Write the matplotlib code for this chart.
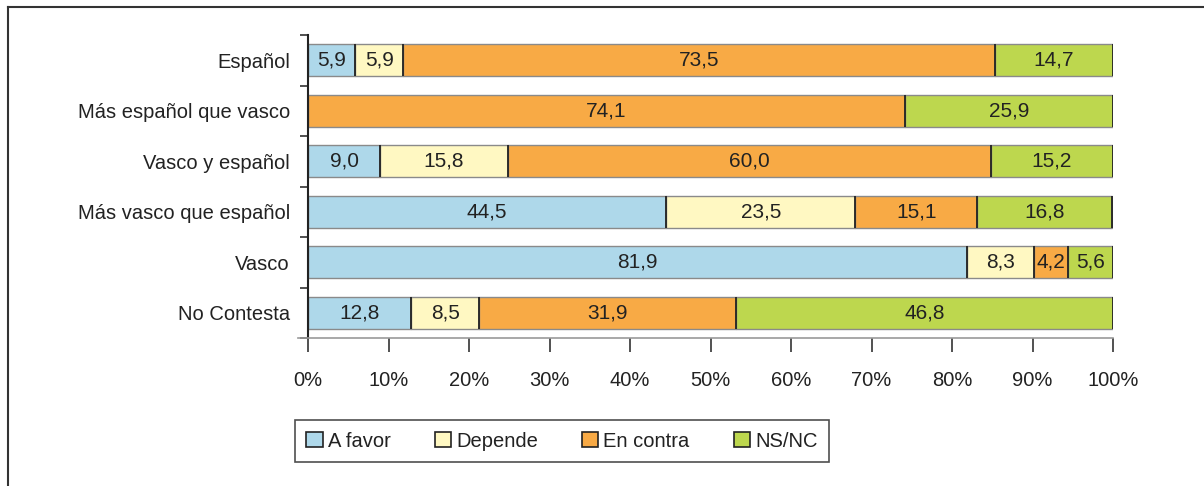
import matplotlib
matplotlib.use("Agg")
import matplotlib.pyplot as plt
from matplotlib.patches import Patch
from matplotlib.lines import Line2D
import numpy as np

plt.rcParams['font.family'] = ['Liberation Sans', 'DejaVu Sans']

categories = ["Español", "Más español que vasco", "Vasco y español",
              "Más vasco que español", "Vasco", "No Contesta"]
series_names = ["A favor", "Depende", "En contra", "NS/NC"]
a_favor = [5.9, 0.0, 9.0, 44.5, 81.9, 12.8]
depende = [5.9, 0.0, 15.8, 23.5, 8.3, 8.5]
en_contra = [73.5, 74.1, 60.0, 15.1, 4.2, 31.9]
ns_nc = [14.7, 25.9, 15.2, 16.8, 5.6, 46.8]
x_ticks = [0, 10, 20, 30, 40, 50, 60, 70, 80, 90, 100]
x_tick_labels = ["0%", "10%", "20%", "30%", "40%", "50%", "60%", "70%", "80%", "90%", "100%"]

colors = ["#AED8EA", "#FFF8C2", "#F8AA45", "#BDD74E"]
series = [a_favor, depende, en_contra, ns_nc]

fig = plt.figure(figsize=(12.04, 4.86), dpi=100)
ax = fig.add_axes([308/1204, 1-338/486, (1113-308)/1204, (338-35)/486])

y = np.arange(len(categories))
left = np.zeros(len(categories))
bh = 0.63
for vals, col, name in zip(series, colors, series_names):
    vals = np.array(vals)
    ax.barh(y, vals, left=left, height=bh, color=col, edgecolor="#8a8a8a",
            linewidth=1.0, label=name, zorder=2)
    for i, v in enumerate(vals):
        if v > 0:
            ax.text(left[i] + v/2, y[i], f"{v:.1f}".replace(".", ","),
                    ha="center", va="center", fontsize=15, color="#222222", zorder=4)
    left = left + vals
    for i, v in enumerate(vals):
        if v > 0:
            ax.vlines(left[i], y[i]-bh/2, y[i]+bh/2, color="#222222", linewidth=1.3, zorder=3)
ax.vlines(np.zeros(len(categories)), y-bh/2, y+bh/2, color="#222222", linewidth=1.3, zorder=3)

ax.set_xlim(0, 100)
ax.set_ylim(len(categories)-0.5, -0.5)
ax.set_yticks(y)
ax.set_yticklabels(categories, fontsize=14.5, color="#222222")
ax.tick_params(axis="y", which="major", length=0, pad=13)
ax.set_yticks(np.arange(len(categories)+1) - 0.5, minor=True)
ax.tick_params(axis="y", which="minor", length=6, width=1.2, color="#333333", direction="out")
ax.set_xticks(x_ticks)
ax.set_xticklabels(x_tick_labels, fontsize=14.5, color="#222222")
ax.tick_params(axis="x", length=10, width=1.2, color="#333333", direction="out", pad=14)

for s in ["top", "right"]:
    ax.spines[s].set_visible(False)
ax.spines["left"].set_color("#222222")
ax.spines["left"].set_linewidth(1.5)
ax.spines["bottom"].set_color("#999999")
ax.spines["bottom"].set_linewidth(1.2)
ax.spines["bottom"].set_bounds(-1.2, 100)

handles = [Patch(facecolor=c, edgecolor="#222222", linewidth=1.2) for c in colors]
leg = fig.legend(handles, series_names, loc="center", bbox_to_anchor=(562/1204, 1-441/486),
                 ncol=4, fontsize=14.5, frameon=True, fancybox=False, edgecolor="#222222",
                 handlelength=0.8, handleheight=0.8, handletextpad=0.25, columnspacing=2.2,
                 borderpad=0.55, borderaxespad=0)
leg.get_frame().set_linewidth(1.2)
for t in leg.get_texts():
    t.set_color("#222222")

fig.add_artist(Line2D([8/1204, 8/1204], [0, 1-7/486], transform=fig.transFigure, color="#333333", linewidth=1.5))
fig.add_artist(Line2D([8/1204, 1], [1-7/486, 1-7/486], transform=fig.transFigure, color="#333333", linewidth=1.5))

fig.savefig("out.png", dpi=100)
